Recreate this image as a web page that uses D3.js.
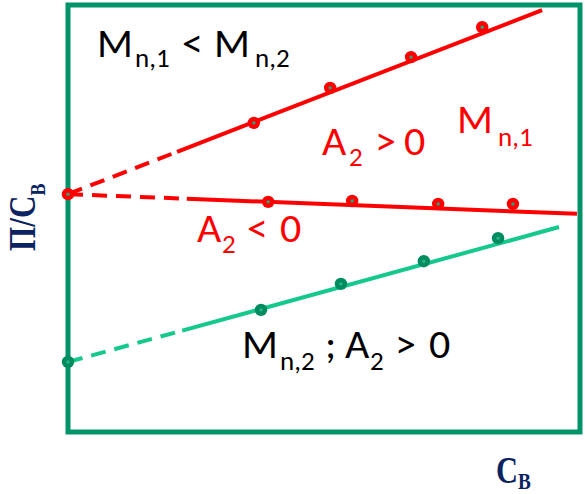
<!DOCTYPE html>
<html>
<head>
<meta charset="utf-8">
<script src="https://cdn.jsdelivr.net/npm/d3@7"></script>
<style>
  html, body { margin: 0; padding: 0; background: #fff; }
  svg { display: block; }
</style>
</head>
<body>
<svg id="chart" width="585" height="494"></svg>
<script>
// Osmotic pressure Π/C_B versus concentration C_B (schematic, arbitrary units)

// Measured points, series 1 with A2 > 0 (upper red)
const upperX = [3.63, 5.12, 6.70, 8.09];
const upperY = [7.24, 8.06, 8.78, 9.48];
// Series 1 with A2 < 0 (lower red)
const lowerX = [3.91, 5.55, 7.23, 8.69];
const lowerY = [5.39, 5.41, 5.34, 5.34];
// Series 2 (green)
const greenX = [3.77, 5.33, 6.95, 8.40];
const greenY = [2.86, 3.47, 4.00, 4.54];

// Fitted lines: intercept at C_B = 0, end point, and where the extrapolation (dashed) ends
const upperFit = { intercept: 5.57, endX: 9.26, endY: 9.88, dashTo: 2.13 };
const lowerFit = { intercept: 5.57, endX: 9.94, endY: 5.11, dashTo: 2.32 };
const greenFit = { intercept: 1.64, endX: 9.59, endY: 4.80, dashTo: 2.23 };

const svg = d3.select("#chart");
const frame = { left: 68, right: 580, top: 5, bottom: 432 };

const x = d3.scaleLinear().domain([0, 10]).range([frame.left, frame.right]);
const y = d3.scaleLinear().domain([0, 10]).range([frame.bottom, frame.top]);

const RED = "#ff0000";
const GREEN_LINE = "#14c88e";
const GREEN_DOT = "#008c61";
const FRAME = "#00936a";
const NAVY = "#0b2361";

// plot frame
svg.append("rect")
  .attr("x", x(0)).attr("y", y(10))
  .attr("width", x(10) - x(0)).attr("height", y(0) - y(10))
  .attr("fill", "none").attr("stroke", FRAME).attr("stroke-width", 5);

const line = d3.line().x(d => x(d[0])).y(d => y(d[1]));

function drawFit(fit, color) {
  const at = c => fit.intercept + (fit.endY - fit.intercept) * c / fit.endX;
  svg.append("path")
    .attr("d", line([[0, fit.intercept], [fit.dashTo, at(fit.dashTo)]]))
    .attr("fill", "none").attr("stroke", color).attr("stroke-width", 4)
    .attr("stroke-dasharray", "15,9");
  svg.append("path")
    .attr("d", line([[fit.dashTo, at(fit.dashTo)], [fit.endX, fit.endY]]))
    .attr("fill", "none").attr("stroke", color).attr("stroke-width", 4);
}

drawFit(upperFit, RED);
drawFit(lowerFit, RED);
drawFit(greenFit, GREEN_LINE);

function drawPoints(xs, ys, outer, inner) {
  const pts = xs.map((v, i) => [v, ys[i]]);
  const g = svg.append("g");
  g.selectAll("circle.o").data(pts).join("circle").attr("class", "o")
    .attr("cx", d => x(d[0])).attr("cy", d => y(d[1])).attr("r", 6.2).attr("fill", outer);
  g.selectAll("circle.i").data(pts).join("circle").attr("class", "i")
    .attr("cx", d => x(d[0])).attr("cy", d => y(d[1])).attr("r", 1.7).attr("fill", inner);
}

drawPoints(upperX, upperY, RED, "#20a77a");
drawPoints(lowerX, lowerY, RED, "#20a77a");
drawPoints(greenX, greenY, GREEN_DOT, "#2bb585");
// intercept markers on the ordinate
drawPoints([0], [upperFit.intercept], RED, "#20a77a");
drawPoints([0], [greenFit.intercept], GREEN_DOT, "#2bb585");

// annotation labels: pieces of [text, x, baseline, isSubscript]
const SANS = "Carlito, Calibri, Lato, 'Open Sans', sans-serif";
function label(parts, color) {
  const t = svg.append("text").attr("fill", color).attr("font-family", SANS);
  parts.forEach(p => {
    t.append("tspan")
      .attr("x", p[1]).attr("y", p[2])
      .attr("font-size", p[3] ? 27 : 42)
      .text(p[0]);
  });
}

label([["M", 97, 57, 0], ["n,1", 135, 67, 1], ["<", 182, 57, 0], ["M", 214, 57, 0], ["n,2", 255, 67, 1]], "#000");
label([["A", 322, 155, 0], ["2", 349, 166, 1], [">", 375, 155, 0], ["0", 404, 155, 0]], RED);
label([["M", 457, 133, 0], ["n,1", 498, 146, 1]], RED);
label([["A", 197, 242, 0], ["2", 222, 253, 1], ["<", 247, 242, 0], ["0", 280, 242, 0]], RED);
label([["M", 242, 358, 0], ["n,2", 280, 370, 1], [";", 325, 358, 0], ["A", 345, 358, 0], ["2", 370, 370, 1], [">", 395, 358, 0], ["0", 429, 358, 0]], "#000");

// axis titles
const SERIF = "'Liberation Serif', 'Times New Roman', serif";
const yTitle = svg.append("text")
  .attr("transform", "translate(35,251) rotate(-90) scale(0.82,1)")
  .attr("fill", NAVY).attr("font-family", SERIF).attr("font-weight", "bold");
yTitle.append("tspan").attr("font-size", 38).text("Π/C");
yTitle.append("tspan").attr("font-size", 22).attr("dy", 10).text("B");

const xTitle = svg.append("text")
  .attr("transform", "translate(496,483) scale(0.8,1)")
  .attr("fill", NAVY).attr("font-family", SERIF).attr("font-weight", "bold");
xTitle.append("tspan").attr("font-size", 38).text("C");
xTitle.append("tspan").attr("font-size", 24).attr("dy", 6).text("B");
</script>
</body>
</html>
